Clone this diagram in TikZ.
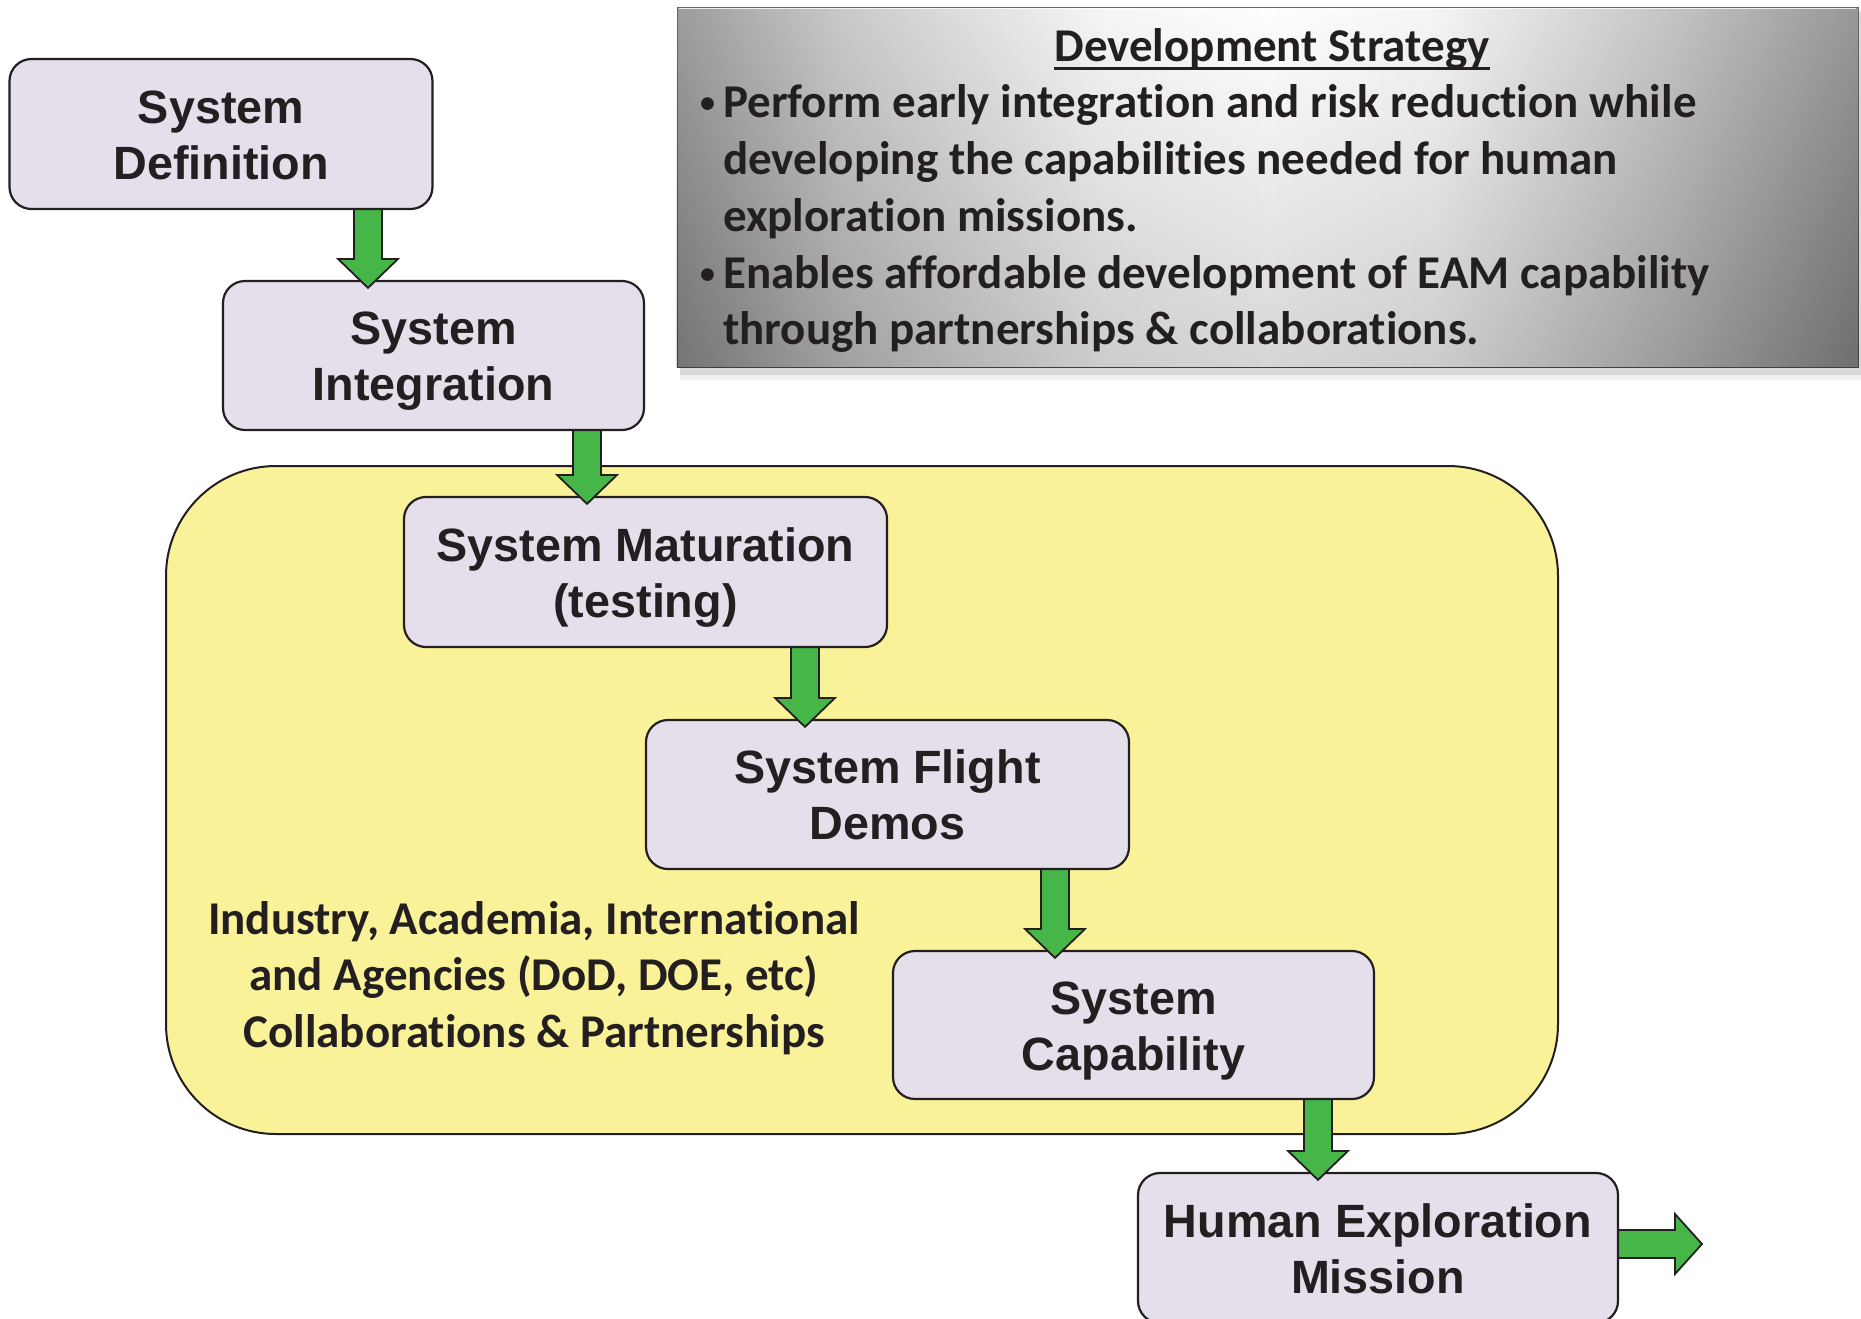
\documentclass[tikz,border=0pt]{standalone}
\usepackage{fontspec}
\setmainfont{Liberation Sans}
\newfontfamily\calfont[RawFeature={-liga;-clig;-dlig;-calt}]{Carlito}
\usetikzlibrary{calc}
\definecolor{boxfill}{RGB}{228,223,234}
\definecolor{yel}{RGB}{249,242,152}
\definecolor{grn}{RGB}{70,182,72}
\definecolor{edge}{RGB}{35,31,32}
\definecolor{sgA}{RGB}{138,138,138}
\definecolor{sgB}{RGB}{192,192,192}
\definecolor{sgC}{RGB}{244,244,244}
\definecolor{sgD}{RGB}{186,186,186}
\definecolor{sgE}{RGB}{132,132,132}
\pgfdeclarehorizontalshading{stratshade}{100bp}{color(0bp)=(sgA); color(25bp)=(sgA); color(32bp)=(sgB); color(43bp)=(sgC); color(50bp)=(white); color(57bp)=(sgC); color(67bp)=(sgD); color(75bp)=(sgE); color(100bp)=(sgE)}
\newcommand\garrow[3]{%
  \draw[garr] let \p1=(#1.south), \p2=(#2.north) in
    ({#3pt-14pt},{\y1+1pt}) -- ({#3pt-14pt},{\y2+21pt}) -- ({#3pt-30pt},{\y2+21pt})
    -- ({#3pt},{\y2-8pt}) -- ({#3pt+30pt},{\y2+21pt}) -- ({#3pt+14pt},{\y2+21pt})
    -- ({#3pt+14pt},{\y1+1pt}) -- cycle;}
\newcommand\bxt[2]{\rule{0pt}{51.6pt}\strut#1\\#2\strut}
\newcommand\bul{\makebox[24pt][l]{\hspace{1pt}\raisebox{5pt}{\fontsize{30}{30}\selectfont •}}}
\begin{document}
\begin{tikzpicture}[x=1pt,y=-1pt,
  box/.style={draw=edge, line width=2.2pt, fill=boxfill, rounded corners=22pt,
    align=center, inner sep=0pt, text=edge,
    font=\fontsize{46.7}{56}\selectfont\bfseries},
  garr/.style={draw=edge, line width=1.8pt, fill=grn, line join=miter},
  zone/.style={draw=edge, line width=2pt, fill=yel, rounded corners=110pt, inner sep=0pt},
  calib/.style={font=\calfont\fontsize{47}{56.8}\selectfont\bfseries, text=edge, inner sep=0pt}
]
\useasboundingbox (0,0) rectangle (1861,1318);
\clip (0,0) rectangle (1861,1318);

% strategy panel
\fill[gray!12] (680,10) rectangle (1861,380);
\fill[gray!30] (680,12) rectangle (1861,375);
\node[shade, shading=stratshade, draw=gray!60!black, line width=0.8pt,
  minimum width=1181pt, minimum height=360pt, inner sep=0pt] (strat) at (1267.5,187) {};
\path[top color=white, bottom color=black, fill opacity=0.16]
  (strat.north west) rectangle (strat.south east);
\draw[white, line width=1.2pt, opacity=0.8] ([shift={(2,2)}]strat.north west) -- ([shift={(-2,2)}]strat.north east);
\node[calib, anchor=base] (strattitle) at (1272,61) {Development Strategy};
\draw[edge, line width=2.8pt] ([yshift=-7.5pt]strattitle.base west) -- ([yshift=-7.5pt]strattitle.base east);
\node[calib, anchor=north west, align=left] (strattext) at (699,84.5)
  {\bul Perform early integration and risk reduction while\\
   \hspace*{24pt}developing the capabilities needed for human\\
   \hspace*{24pt}exploration missions.\\
   \bul Enables affordable development of EAM capability\\
   \hspace*{24pt}through partnerships \& collaborations.};

% collaboration zone
\node[zone, minimum width=1392pt, minimum height=668pt] (zonebox) at (862,800) {};
\node[calib, align=center] (collab) at (534,978)
  {Industry, Academia, International\\and Agencies (DoD, DOE, etc)\\Collaborations \& Partnerships};

% boxes
\node[box, minimum width=423pt, minimum height=150pt] (def) at (221,134) {\bxt{System}{Definition}};
\node[box, minimum width=421pt, minimum height=149pt] (int) at (433.5,355.5) {\bxt{System}{Integration}};
\node[box, minimum width=483pt, minimum height=150pt] (mat) at (645.5,572) {\bxt{System Maturation}{(testing)}};
\node[box, minimum width=483pt, minimum height=149pt] (fli) at (887.5,794.5) {\bxt{System Flight}{Demos}};
\node[box, minimum width=481pt, minimum height=148pt] (cap) at (1133.5,1025) {\bxt{System}{Capability}};
\node[box, minimum width=480pt, minimum height=150pt] (hum) at (1378,1248) {\bxt{Human Exploration}{Mission}};
\coordinate (exitpt) at (1702,1244);

% arrows
\garrow{def}{int}{368}
\garrow{int}{mat}{587}
\garrow{mat}{fli}{805}
\garrow{fli}{cap}{1055}
\garrow{cap}{hum}{1318}
\draw[garr] let \p1=(hum.east), \p2=(exitpt) in
  ({\x1-1pt},{\y2+14pt}) -- ({\x2-27pt},{\y2+14pt}) -- ({\x2-27pt},{\y2+30pt})
  -- (\x2,\y2) -- ({\x2-27pt},{\y2-30pt}) -- ({\x2-27pt},{\y2-14pt})
  -- ({\x1-1pt},{\y2-14pt}) -- cycle;
\end{tikzpicture}
\end{document}
